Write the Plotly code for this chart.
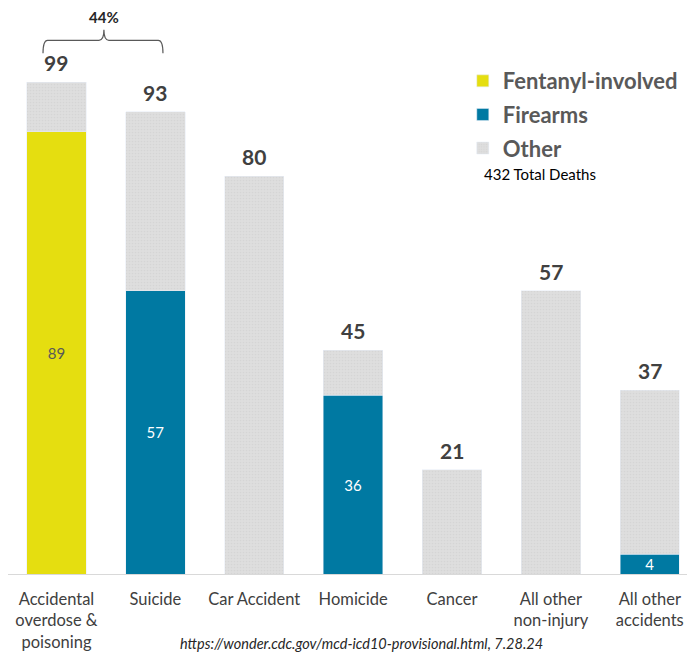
import plotly.graph_objects as go

categories = [
    "Accidental<br>overdose &<br>poisoning",
    "Suicide",
    "Car Accident",
    "Homicide",
    "Cancer",
    "All other<br>non-injury",
    "All other<br>accidents",
]
fentanyl = [89, 0, 0, 0, 0, 0, 0]
firearms = [0, 57, 0, 36, 0, 0, 4]
other = [10, 36, 80, 9, 21, 57, 33]
total_label = "432 Total Deaths"
bracket_label = "44%"
source = "https://wonder.cdc.gov/mcd-icd10-provisional.html, 7.28.24"

FONT = "Lato"
YELLOW = "#E5DE10"
BLUE = "#0079A2"
GRAY = "#D9D9D9"

xs = list(range(len(categories)))
totals = [a + b + c for a, b, c in zip(fentanyl, firearms, other)]


def labels(vals):
    return [str(v) if v else "" for v in vals]


fig = go.Figure()
fig.add_trace(go.Bar(
    name="Fentanyl-involved", legendgroup="f", x=xs, y=fentanyl, marker_color=YELLOW,
    text=labels(fentanyl), textposition="inside", insidetextanchor="middle",
    textangle=0, textfont=dict(color="#595959", size=15, family=FONT),
))
fig.add_trace(go.Bar(
    name="Firearms", legendgroup="g", x=xs, y=firearms, marker_color=BLUE,
    text=labels(firearms), textposition="inside", insidetextanchor="middle",
    textangle=0, textfont=dict(color="white", size=15, family=FONT),
))
fig.add_trace(go.Bar(
    name="Other", legendgroup="o", x=xs, y=other,
    marker=dict(color=GRAY, pattern=dict(shape=".", size=3, solidity=0.25,
                                         fgcolor="#cccccc", bgcolor="#dedede")),
))

for x, t in zip(xs, totals):
    fig.add_annotation(x=x, y=t, text=f"<b>{t}</b>", showarrow=False,
                       yanchor="bottom", yshift=5,
                       font=dict(size=21, color="#404040", family=FONT))

# curly bracket over the first two bars
fig.add_shape(
    type="path", xref="x", yref="y",
    path=("M -0.136,104.8 Q -0.136,107.4 -0.09,107.4 L 0.43,107.4 "
          "Q 0.48,107.4 0.48,109.5 Q 0.48,107.4 0.53,107.4 "
          "L 1.03,107.4 Q 1.077,107.4 1.077,104.8"),
    line=dict(color="#595959", width=1.2),
)
fig.add_annotation(x=0.48, y=112.0, yanchor="middle", text=f"<b>{bracket_label}</b>",
                   showarrow=False, font=dict(size=15, color="#262626", family=FONT))

fig.add_annotation(xref="paper", yref="paper", x=0.69, y=0.7067,
                   xanchor="left", yanchor="middle",
                   text=total_label, showarrow=False,
                   font=dict(size=15, color="#000000", family=FONT))
fig.add_annotation(xref="paper", yref="paper", x=0.515, y=-0.123, yanchor="middle",
                   text=f"<i>{source}</i>", showarrow=False,
                   font=dict(size=14.5, color="#262626", family=FONT))

fig.update_layout(
    width=687, height=645,
    margin=dict(l=0, r=0, t=0, b=79),
    barmode="stack", bargap=0.4,
    plot_bgcolor="white", paper_bgcolor="white",
    font=dict(family=FONT, color="#404040"),
    uniformtext=dict(minsize=15, mode="show"),
    legend=dict(x=0.662, y=0.908, xanchor="left", yanchor="top",
                traceorder="grouped",
                font=dict(size=22, color="#595959", family=FONT, weight="bold"),
                tracegroupgap=2, itemwidth=30, bgcolor="rgba(0,0,0,0)"),
    xaxis=dict(range=[-0.49, 6.457], tickvals=xs, ticktext=categories,
               showline=True, linecolor="#D9D9D9", linewidth=1,
               showgrid=False, zeroline=False, ticks="",
               ticklabelstandoff=10,
               tickfont=dict(size=16.5, color="#404040", family=FONT)),
    yaxis=dict(range=[0, 113.9], visible=False, showgrid=False),
)

fig.write_html("out.html")
